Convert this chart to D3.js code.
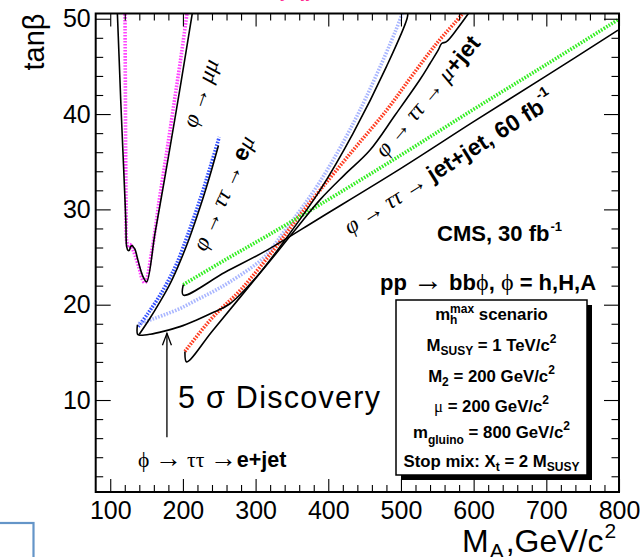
<!DOCTYPE html>
<html><head><meta charset="utf-8">
<script src="https://cdn.jsdelivr.net/npm/d3@7"></script>
<style>
body{margin:0;background:#fff}
svg{display:block}
text{font-family:"Liberation Sans",Arial,Helvetica,sans-serif}
</style>
</head><body>
<svg id="chart" width="640" height="557"></svg>
<script>
// ---------- data ----------
const xDomain = [80, 800];
const yDomain = [0.35, 50.55];
const xMajorTicks = [100, 200, 300, 400, 500, 600, 700, 800];
const xMinorTicks = [120,140,160,180,220,240,260,280,320,340,360,380,420,440,460,480,520,540,560,580,620,640,660,680,720,740,760,780];
const yMajorTicks = [10, 20, 30, 40, 50];
const yMinorTicks = [2,4,6,8,12,14,16,18,22,24,26,28,32,34,36,38,42,44,46,48];

// phi -> mu mu
const muMuSolid = [[109.7,50.8],[112,46.3],[114.4,41.5],[117.5,36.0],[120.3,31.0],[121.6,28.4],[122.6,26.1],[124.5,25.7],[126.2,25.7],[128.2,26.1],[130.3,26.2],[132.3,26.0],[134.1,25.8],[138,24.7],[142,23.6],[146,22.8],[150.1,22.4],[161.6,27.5],[173.9,32.8],[185.6,38.0],[197.3,43.3],[213.4,50.8]];
const muMuDotted = [[120.3,50.8],[120.8,43],[121.2,36.2],[121.8,30],[122.4,26.8],[125,26.0],[127.2,26.3],[131,25.8],[134.1,25.2],[138,24.3],[141,23.5],[144,22.7],[147.8,22.3],[157.4,25.7],[167.5,31],[178.1,36.2],[188.5,41.5],[198.7,46.7],[206,50.8]];
// phi -> tau tau -> e mu
const eMuSolid = [[140.0,16.9],[154,18.5],[168.4,20.3],[181,22.0],[193.2,24.0],[209,27.0],[224.8,30.5],[237,33.5],[248.9,36.7]];
const eMuDotted = [[138.6,17.7],[152,19.1],[166.1,20.7],[179,22.4],[191.4,24.3],[207,27.4],[223.4,31.0],[237,34.3],[250.0,37.6]];
// phi -> tau tau -> e + jet
const eJetSolid = [[137.4,17.9],[137.6,16.9],[140.9,16.8],[155,16.9],[173,17.2],[196,17.7],[218.9,18.4],[242,19.2],[264.7,20.1],[303.2,23.1],[337.6,26.5],[388.5,32.0],[434.3,38.0],[480.2,45.0],[508.5,50.05],[509.5,50.8]];
const eJetDotted = [[138.6,18.0],[155,18.4],[173.0,18.9],[196,19.6],[218.9,20.5],[242,21.4],[264.7,22.4],[310.5,24.9],[337.6,27.5],[388.5,32.9],[443.5,40.4],[500.8,50.4],[501.5,50.8]];
// phi -> tau tau -> mu + jet
const muJetSolid = [[202.8,15.1],[205.1,14.0],[240,17.2],[280,20.9],[324.3,25.0],[356,28.0],[388.5,31.0],[422,33.6],[457.2,36.2],[492,39.9],[526,43.6],[540,45.3],[551.2,46.7],[556,47.4],[562.7,47.6],[578,49.0],[592.4,50.5],[596,50.9]];
const muJetDotted = [[202.8,15.1],[240,18.6],[280,21.6],[324.3,25.7],[356,28.9],[388.5,32.0],[434,36.2],[480.2,40.4],[515,44.0],[549,47.4],[583.4,50.4],[588,50.9]];
// phi -> tau tau -> jet + jet, 60 fb-1
const jetJetSolid = [[200.5,22.1],[200.5,21.0],[258,23.4],[315.2,25.7],[388.5,29.1],[500,34.3],[600,39.2],[700,44.0],[798.7,48.8]];
const jetJetDotted = [[200.5,22.1],[258,24.7],[315.2,27.2],[388.5,30.5],[500,35.7],[600,40.5],[700,45.2],[798.7,49.9]];

const boxLines = ["scenario","M_SUSY = 1 TeV/c2","M2 = 200 GeV/c2","mu = 200 GeV/c2","m_gluino = 800 GeV/c2","Stop mix: Xt = 2 M_SUSY"];

// ---------- setup ----------
const svg = d3.select("#chart");
const L = 95.7, R = 619, T = 13.5, B = 492;
const x = d3.scaleLinear().domain(xDomain).range([L, R]);
const y = d3.scaleLinear().domain(yDomain).range([B, T]);

svg.append("defs").append("clipPath").attr("id","clip")
  .append("rect").attr("x",L).attr("y",T).attr("width",R-L).attr("height",B-T);

// bottom-left blue box fragment
svg.append("rect").attr("x",-10).attr("y",523).attr("width",43.5).attr("height",60)
  .attr("fill","none").attr("stroke","#6495c8").attr("stroke-width",2.2);

// partial magenta title, cut at the top
svg.append("text").attr("x",280).attr("y",-4).attr("font-size",22).attr("fill","#ff2a90")
  .text("y, jj");

const line = d3.line().x(d=>x(d[0])).y(d=>y(d[1])).curve(d3.curveCatmullRom.alpha(0.5));
const plot = svg.append("g").attr("clip-path","url(#clip)");

function dotted(data, color){
  plot.append("path").attr("d", line(data)).attr("fill","none")
    .attr("stroke", color).attr("stroke-width", 3.6).attr("stroke-dasharray","1.6,1.4");
}
function solid(data){
  plot.append("path").attr("d", line(data)).attr("fill","none")
    .attr("stroke","#000").attr("stroke-width",1.6);
}
dotted(muMuDotted, "#ff44ff");
dotted(eMuDotted, "#3350ff");
dotted(eJetDotted, "#a9b6ff");
dotted(muJetDotted, "#ff3b1f");
dotted(jetJetDotted, "#33ee22");
solid(muMuSolid); solid(eMuSolid); solid(eJetSolid); solid(muJetSolid); solid(jetJetSolid);

// ---------- axes ----------
function styleAxis(g){ g.select(".domain").remove(); g.selectAll("line").attr("stroke","#000").attr("stroke-width",1.1); }
const fmt = d3.format("d");
svg.append("g").attr("transform",`translate(0,${B})`)
  .call(d3.axisBottom(x).tickValues(xMajorTicks).tickSize(-13).tickPadding(9).tickFormat(fmt))
  .call(styleAxis).call(g=>g.selectAll("text").attr("font-size",25).attr("font-family","Liberation Sans").attr("fill","#000"));
svg.append("g").attr("transform",`translate(0,${B})`)
  .call(d3.axisBottom(x).tickValues(xMinorTicks).tickSize(-7).tickFormat("")).call(styleAxis);
svg.append("g").attr("transform",`translate(0,${T})`)
  .call(d3.axisTop(x).tickValues(xMajorTicks).tickSize(-13).tickFormat("")).call(styleAxis);
svg.append("g").attr("transform",`translate(0,${T})`)
  .call(d3.axisTop(x).tickValues(xMinorTicks).tickSize(-7).tickFormat("")).call(styleAxis);
svg.append("g").attr("transform",`translate(${L},0)`)
  .call(d3.axisLeft(y).tickValues(yMajorTicks).tickSize(-15).tickPadding(5).tickFormat(fmt))
  .call(styleAxis).call(g=>g.selectAll("text").attr("font-size",25).attr("font-family","Liberation Sans").attr("fill","#000"));
svg.append("g").attr("transform",`translate(${L},0)`)
  .call(d3.axisLeft(y).tickValues(yMinorTicks).tickSize(-7.5).tickFormat("")).call(styleAxis);
svg.append("g").attr("transform",`translate(${R},0)`)
  .call(d3.axisRight(y).tickValues(yMajorTicks).tickSize(-15).tickFormat("")).call(styleAxis);
svg.append("g").attr("transform",`translate(${R},0)`)
  .call(d3.axisRight(y).tickValues(yMinorTicks).tickSize(-7.5).tickFormat("")).call(styleAxis);

svg.append("rect").attr("x",L).attr("y",T).attr("width",R-L).attr("height",B-T)
  .attr("fill","none").attr("stroke","#000").attr("stroke-width",2);

// axis titles
svg.append("text").attr("transform",`translate(44,${T}) rotate(-90)`).attr("text-anchor","end")
  .attr("font-size",29).text("tanβ");
const xt = svg.append("text").attr("x",462).attr("y",552).attr("font-size",32);
xt.append("tspan").text("M");
xt.append("tspan").attr("font-size",21).attr("dy",6).attr("dx",1).text("A");
xt.append("tspan").attr("dy",-6).attr("dx",2).text(",GeV/c");
xt.append("tspan").attr("font-size",21).attr("dy",-14).attr("dx",1).text("2");

// ---------- annotations ----------
const serif = "Liberation Serif";
function rotLabel(cx, cy, ang, size, parts){
  const t = svg.append("text").attr("transform",`translate(${cx},${cy}) rotate(${ang})`)
    .attr("text-anchor","middle").attr("dominant-baseline","central").attr("font-size",size);
  parts.forEach(p=>{
    const s = t.append("tspan").text(p.t);
    if(p.serif) s.attr("font-family",serif);
    if(p.it) s.attr("font-style","italic");
    if(p.bold) s.attr("font-weight","bold");
    if(p.dy) s.attr("dy",p.dy);
    if(p.size) s.attr("font-size",p.size);
  });
}
rotLabel(200, 93, -71, 23, [{t:"φ → μμ", serif:true, it:true}]);
rotLabel(223, 193, -66, 23, [{t:"φ → ττ → ", serif:true, it:true},{t:"e",bold:true},{t:"μ",serif:true,it:true}]);
rotLabel(427, 96, -50, 23, [{t:"φ → ττ → ", serif:true, it:true},{t:"μ",serif:true,it:true},{t:"+jet",bold:true}]);
rotLabel(449, 163, -32.3, 23, [{t:"φ → ττ → ", serif:true, it:true},{t:"jet+jet, 60 fb",bold:true},{t:"-1",bold:true,size:14,dy:-10}]);

// 5 sigma discovery + arrow
svg.append("text").attr("x",178).attr("y",408).attr("font-size",30.5)
  .attr("textLength",202).attr("lengthAdjust","spacing").text("5 σ Discovery");
const arrowMA = 178;
svg.append("line").attr("x1",x(arrowMA)).attr("x2",x(arrowMA)).attr("y1",y(6.1)).attr("y2",y(17.0))
  .attr("stroke","#000").attr("stroke-width",1.3);
svg.append("path").attr("d",`M${x(arrowMA)-4.5},${y(17.0)+12} L${x(arrowMA)},${y(17.0)} L${x(arrowMA)+4.5},${y(17.0)+12}`)
  .attr("fill","none").attr("stroke","#000").attr("stroke-width",1.3);
const ej = svg.append("text").attr("x",138).attr("y",467).attr("font-size",21.5);
ej.append("tspan").attr("font-family",serif).text("ϕ ");
ej.append("tspan").attr("font-family",serif).attr("font-size",27).text("→");
ej.append("tspan").attr("font-family",serif).text(" ττ ");
ej.append("tspan").attr("font-family",serif).attr("font-size",27).text("→");
ej.append("tspan").attr("font-weight","bold").text("e+jet");

// CMS texts
const cms = svg.append("text").attr("x",437).attr("y",240.5).attr("font-size",22).attr("font-weight","bold");
cms.append("tspan").text("CMS, 30 fb");
cms.append("tspan").attr("font-size",13).attr("dy",-10).attr("dx",1).text("-1");
const pp = svg.append("text").attr("x",380).attr("y",290).attr("font-size",22).attr("font-weight","bold");
pp.append("tspan").text("pp ");
pp.append("tspan").attr("font-family",serif).attr("font-weight","normal").attr("font-size",30).text("→");
pp.append("tspan").text(" bb");
pp.append("tspan").attr("font-family",serif).attr("font-weight","normal").attr("font-size",24).text("ϕ");
pp.append("tspan").text(", ");
pp.append("tspan").attr("font-family",serif).attr("font-weight","normal").attr("font-size",24).text("ϕ");
pp.append("tspan").text(" = h,H,A");

// parameter box
svg.append("rect").attr("x",401).attr("y",305).attr("width",191).attr("height",175).attr("fill","#000");
svg.append("rect").attr("x",396).attr("y",300).attr("width",191).attr("height",175).attr("fill","#fff")
  .attr("stroke","#000").attr("stroke-width",1.5);
const bx = 491.5, bs = 16.8, ss = 12;
function boxText(yb){ return svg.append("text").attr("x",bx).attr("y",yb).attr("text-anchor","middle")
  .attr("font-size",bs).attr("font-weight","bold"); }
let t1 = boxText(319.5);
t1.append("tspan").text("m");
t1.append("tspan").attr("font-size",ss).attr("dy",4).text("h");
t1.append("tspan").attr("font-size",ss).attr("dx",-7.3).attr("dy",-11).text("max");
t1.append("tspan").attr("dy",7).text(" " + boxLines[0]);
let t2 = boxText(350.7);
t2.append("tspan").text("M");
t2.append("tspan").attr("font-size",ss).attr("dy",4).text("SUSY");
t2.append("tspan").attr("dy",-4).text(" = 1 TeV/c");
t2.append("tspan").attr("font-size",ss).attr("dy",-8).text("2");
let t3 = boxText(381.7);
t3.append("tspan").text("M");
t3.append("tspan").attr("font-size",ss).attr("dy",4).text("2");
t3.append("tspan").attr("dy",-4).text(" = 200 GeV/c");
t3.append("tspan").attr("font-size",ss).attr("dy",-8).text("2");
let t4 = boxText(411.7);
t4.append("tspan").attr("font-family",serif).attr("font-weight","normal").text("μ");
t4.append("tspan").text(" = 200 GeV/c");
t4.append("tspan").attr("font-size",ss).attr("dy",-8).text("2");
let t5 = boxText(438.3);
t5.append("tspan").text("m");
t5.append("tspan").attr("font-size",ss).attr("dy",6).text("gluino");
t5.append("tspan").attr("dy",-6).text(" = 800 GeV/c");
t5.append("tspan").attr("font-size",ss).attr("dy",-8).text("2");
let t6 = boxText(466.7);
t6.append("tspan").text("Stop mix: X");
t6.append("tspan").attr("font-size",ss).attr("dy",4).text("t");
t6.append("tspan").attr("dy",-4).text(" = 2 M");
t6.append("tspan").attr("font-size",ss).attr("dy",4).text("SUSY");
</script>
</body></html>
